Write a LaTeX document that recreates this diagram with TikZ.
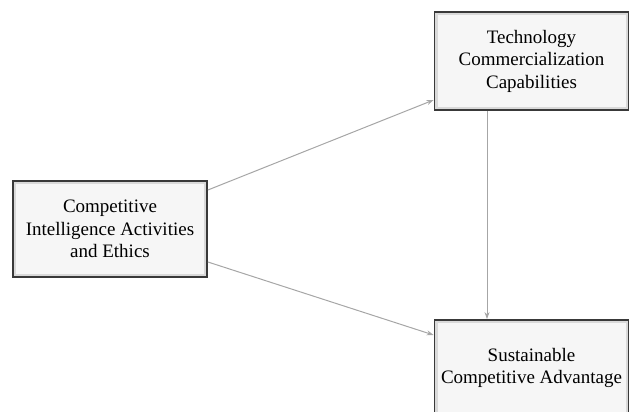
\documentclass[tikz,border=0pt]{standalone}
\usepackage{fontspec}
\setmainfont{Liberation Serif}
\usetikzlibrary{positioning, arrows.meta}

\tikzset{
    factor/.style={draw=gray!45!black, line width=1.8pt, fill=gray!7,
        minimum width=194pt, align=center, font=\fontsize{19}{22.5}\selectfont,
        inner sep=2pt,
        path picture={\draw[gray!30, line width=6pt]
            (path picture bounding box.south west) rectangle (path picture bounding box.north east);}},
    link/.style={-{Stealth[length=7pt,width=5pt]}, draw=gray!70, line width=1pt}
}

\begin{document}
\begin{tikzpicture}[x=1pt,y=-1pt]
    \useasboundingbox (0,0) rectangle (630,412);
    \node[factor, minimum height=96pt] (ci) at (110,229) {Competitive\\Intelligence Activities\\and Ethics};
    \node[factor, minimum height=98pt] (tc) at (531.5,61) {Technology\\Commercialization\\Capabilities};
    \node[factor, minimum height=96pt] (sa) at (531.5,368) {Sustainable\\Competitive Advantage};

    \draw[link] ([yshift=39pt]ci.east) -- ([yshift=-39pt]tc.west);
    \draw[link] ([yshift=-33pt]ci.east) -- ([yshift=33pt]sa.west);
    \draw[link] ([xshift=-44.5pt]tc.south) -- ([xshift=-44.5pt]sa.north);
\end{tikzpicture}
\end{document}
